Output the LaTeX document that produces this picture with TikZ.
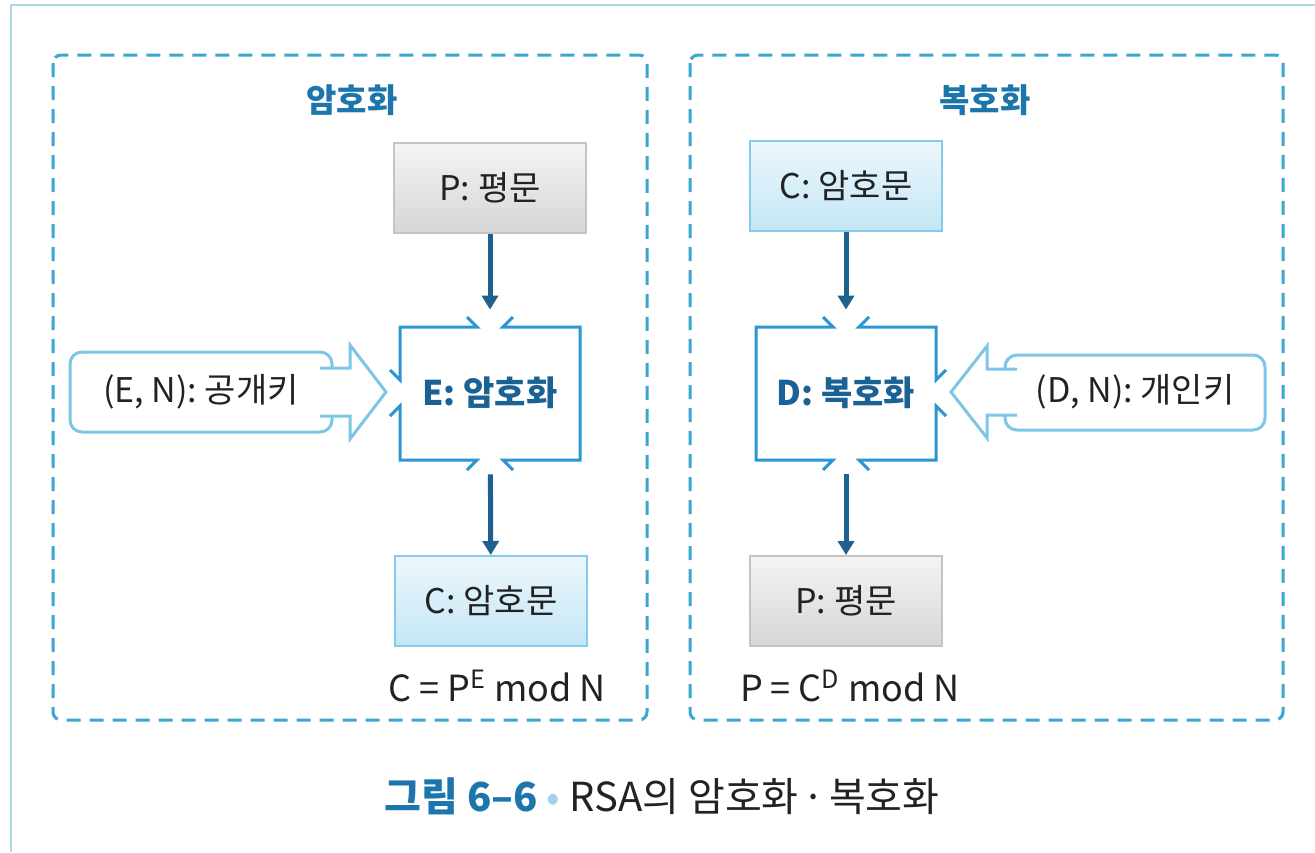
\documentclass[tikz,border=0pt]{standalone}
\usepackage{fontspec}
\setmainfont{Noto Sans CJK KR}
\usepackage{xcolor}
\usetikzlibrary{arrows.meta,calc}

\definecolor{framecol}{RGB}{168,220,227}
\definecolor{panelcol}{RGB}{58,166,210}
\definecolor{titlecol}{RGB}{28,118,172}
\definecolor{bracketcol}{RGB}{42,150,210}
\definecolor{boxtext}{RGB}{26,98,148}
\definecolor{flowcol}{RGB}{30,96,142}
\definecolor{keycol}{RGB}{124,198,230}
\definecolor{graytop}{RGB}{244,244,244}
\definecolor{graybot}{RGB}{214,214,214}
\definecolor{grayline}{RGB}{196,196,196}
\definecolor{bluetop}{RGB}{236,247,252}
\definecolor{bluebot}{RGB}{196,230,245}
\definecolor{blueline}{RGB}{134,204,234}
\definecolor{dotcol}{RGB}{160,212,235}
\definecolor{textcol}{RGB}{34,34,34}

% three corner pieces of the E/D box, drawn round (0,0)
\newcommand{\bracketlines}{%
  \draw[bracket] (-23,-76) -- (-13,-66) -- (-90,-66) -- (-90,-13) -- (-100,-23);
  \draw[bracket] (-100,23) -- (-90,13) -- (-90,67) -- (-13,67) -- (-23,77);
  \draw[bracket] (23,-76) -- (13,-66) -- (90,-66) -- (90,67) -- (13,67) -- (23,77);
}

\begin{document}
\begin{tikzpicture}[x=0.5pt, y=-0.5pt, font=\fontsize{17pt}{20pt}\selectfont, text=textcol,
    panel/.style={draw=panelcol, line width=1.5pt, dash pattern=on 7pt off 4.5pt, rounded corners=4pt},
    title/.style={text=titlecol, font=\fontsize{16.5pt}{19pt}\selectfont\bfseries},
    graybox/.style={draw=grayline, line width=1pt, top color=graytop, bottom color=graybot, minimum width=96pt, minimum height=45pt},
    bluebox/.style={draw=blueline, line width=1pt, top color=bluetop, bottom color=bluebot, minimum width=96pt, minimum height=45pt},
    opbox/.style={minimum width=90pt, minimum height=67pt, text=boxtext, font=\fontsize{17pt}{20pt}\selectfont\bfseries},
    bracket/.style={draw=bracketcol, line width=1.5pt, line join=miter},
    flow/.style={draw=flowcol, line width=2.5pt, -{Triangle[width=8pt,length=7pt]}},
    keyline/.style={draw=keycol, line width=1.5pt, fill=white},
    formula/.style={font=\fontsize{18pt}{21pt}\selectfont}]

    \fill[white] (0,0) rectangle (1315,852);
    \useasboundingbox (0,0) rectangle (1315,852);
    \draw[framecol, line width=1pt] (11,852) -- (11,5) -- (1315,5);

    % encryption
    \draw[panel] (53,55) rectangle (647,720);
    \node[title] (enctitle) at (352,100) {암호화};
    \node[graybox] (plain1) at (490,188) {P: 평문};
    \node[opbox] (enc) at (490,393) {E: 암호화};
    \node[bluebox] (cipher1) at (491,601) {C: 암호문};
    \begin{scope}[shift={(enc.center)}]
        \bracketlines
    \end{scope}
    \draw[flow, shorten >=8pt] (plain1) -- (enc);
    \draw[flow, shorten <=7pt] (enc) -- (cipher1);
    \draw[keyline, rounded corners=6pt] (70,352) rectangle (332,432);
    \draw[keyline] (320,368) -- (350,368) -- (350,345) -- (386,392) -- (350,439) -- (350,416) -- (320,416);
    \node (pubkey) at (201,392) {(E, N): 공개키};
    \node[formula] (encform) at (497,686) {C = P\textsuperscript{E} mod N};

    % decryption
    \draw[panel] (690,55) rectangle (1283,720);
    \node[title] (dectitle) at (985,100) {복호화};
    \node[bluebox] (cipher2) at (846,186) {C: 암호문};
    \node[opbox] (dec) at (846,393) {D: 복호화};
    \node[graybox] (plain2) at (846,601) {P: 평문};
    \begin{scope}[shift={(dec.center)}, xscale=-1]
        \bracketlines
    \end{scope}
    \draw[flow, shorten >=8pt] (cipher2) -- (dec);
    \draw[flow, shorten <=7pt] (dec) -- (plain2);
    \draw[keyline, rounded corners=6pt] (1005,355) rectangle (1265,430);
    \draw[keyline] (1017,369) -- (987,369) -- (987,346) -- (951,392) -- (987,438) -- (987,415) -- (1017,415);
    \node (privkey) at (1135,392) {(D, N): 개인키};
    \node[formula] (decform) at (850,686) {P = C\textsuperscript{D} mod N};

    \node[font=\fontsize{20pt}{24pt}\selectfont] (caption) at (662,796)
        {{\color{titlecol}\bfseries 그림 6–6}\ {\color{dotcol}•}\ RSA의 암호화\hspace{0.1em}·\hspace{0.1em}복호화};
\end{tikzpicture}
\end{document}
